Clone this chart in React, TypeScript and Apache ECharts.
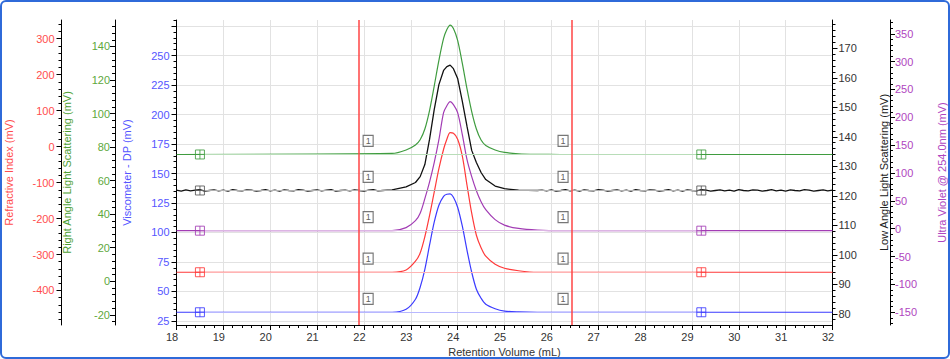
import React, { useEffect, useRef } from "react";
import * as echarts from "echarts";

// Retention volume (mL) sampling points
const retention = [18, 22.6, 22.9, 23.1, 23.2, 23.3, 23.4, 23.5, 23.6, 23.7, 23.77, 23.84, 23.91, 24.0, 24.1, 24.2, 24.3, 24.4, 24.5, 24.6, 24.8, 25.0, 25.3, 25.7, 26.2, 32];

// Detector signals (mV), each on its own axis
const rightAngleLS = [75.6, 76.2, 78.3, 81.3, 84.4, 90.8, 101.8, 116.4, 131.7, 144.8, 150.1, 152.8, 150.7, 143.6, 129.9, 114.7, 101.2, 90.8, 84.2, 81.0, 78.3, 76.8, 76.0, 75.7, 75.6, 75.6];
const lowAngleLS = [121.8, 122.0, 123.0, 124.5, 126.5, 130.6, 139.1, 149.2, 157.7, 162.5, 163.8, 164.3, 163.1, 159.8, 152.0, 143.5, 135.4, 131.3, 127.9, 125.5, 123.3, 122.4, 121.9, 121.8, 121.8, 121.8];
const ultraViolet = [-3.6, -3.6, 1.8, 14.4, 27.8, 53.9, 83.5, 118.5, 159.8, 208.3, 220.9, 228.1, 222.7, 208.3, 168.8, 123.9, 93.4, 68.2, 48.5, 34.1, 16.2, 6.3, 0.4, -2.5, -3.6, -3.6];
const refractiveIndex = [-349.3, -349.3, -343.2, -318.7, -295.9, -250.6, -192.2, -126.8, -61.5, -7.3, 20.6, 38.6, 37.2, 20.6, -26.7, -107.4, -185.2, -246.4, -281.2, -304.8, -327.1, -338.2, -345.1, -349.3, -349.3, -349.3];
const viscometerDP = [32.4, 32.4, 34.9, 43.4, 53.6, 68.8, 89.2, 108.7, 123.1, 130.7, 132.4, 132.7, 129.9, 121.4, 105.3, 84.9, 66.3, 51.9, 44.3, 39.2, 35.4, 33.4, 32.7, 32.4, 32.4, 32.4];

// Noisy low-angle baseline, every 0.1 mL before (18.0–22.5) and after (25.8–32.0) the peak
const lowAngleNoiseBefore = [121.9, 121.6, 122.0, 121.7, 121.9, 122.1, 121.6, 121.8, 122.0, 121.7,
  121.9, 121.6, 122.1, 121.8, 121.7, 122.0, 121.9, 121.6, 121.8, 122.1,
  121.7, 121.9, 121.6, 122.0, 121.8, 121.7, 122.1, 121.9, 121.6, 121.8,
  122.0, 121.7, 121.9, 122.1, 121.6, 121.8, 121.9, 121.7, 122.0, 121.8,
  121.6, 121.9, 122.1, 121.7, 121.8, 121.9];
const lowAngleNoiseAfter = [121.9, 121.7, 122.0, 121.6, 121.8, 122.1, 121.7, 121.9, 121.6, 122.0,
  121.8, 121.7, 122.1, 121.9, 121.6, 121.8, 122.0, 121.7, 121.9, 121.6,
  122.1, 121.8, 121.7, 122.0, 121.9, 121.6, 121.8, 122.1, 121.7, 121.9,
  121.6, 122.0, 121.8, 121.7, 122.1, 121.9, 121.6, 121.8, 122.0, 121.7,
  121.9, 121.6, 122.1, 121.8, 121.7, 122.0, 121.9, 121.6, 121.8, 122.1,
  121.7, 121.9, 121.6, 122.0, 121.8, 121.7, 122.1, 121.9, 121.6, 121.8,
  122.0, 121.7, 121.9];

// Baselines of each detector
const rightAngleBase = 75.6;
const lowAngleBase = 121.8;
const ultraVioletBase = -3.6;
const refractiveBase = -349.3;
const viscometerBase = 32.4;

// Baseline markers, peak limits, peak tags (mL)
const baselineMarkers = [18.5, 29.2];
const peakLimits = [21.9, 26.44];
const peakTags = [22.09, 26.25];
const peakTagText = "1";

// Axis ranges
const xRange = [18, 32];
const riRange = [-496, 352];
const ralsRange = [-26.1, 155.8];
const viscRange = [21.6, 280.1];
const lalsRange = [76.2, 179.6];
const uvRange = [-173, 374.8];

const FONT = "'Liberation Sans', Arial, Helvetica, sans-serif";

function steps(start: number, end: number, step: number) {
  const out: number[] = [];
  for (let v = start; v <= end + 1e-9; v += step) out.push(Math.round(v * 1000) / 1000);
  return out;
}

const RED = "#ff3a3a";
const GREEN = "#3f9c3f";
const BLUE = "#3b3bff";
const BLACK = "#111111";
const PURPLE = "#a23cb4";

function mainAxis(o: any) {
  return {
    type: "value",
    position: o.position,
    offset: o.offset,
    min: o.range[0],
    max: o.range[1],
    name: o.name,
    nameLocation: "middle",
    nameGap: o.nameGap,
    nameRotate: 90,
    nameTextStyle: { color: o.nameColor, fontSize: 11, fontFamily: FONT },
    axisLine: { show: true, onZero: false, lineStyle: { color: "#000", width: 1 } },
    axisTick: { show: true, length: 5, customValues: o.majors, lineStyle: { color: "#000", width: 1 } },
    axisLabel: { show: true, customValues: o.labels, color: o.labelColor, fontSize: 11, fontFamily: FONT, margin: o.margin, padding: [0, 0, o.lift, 0] },
    splitLine: { show: !!o.grid, lineStyle: { color: "#e2e2e2", width: 1 } },
    minorTick: { show: false },
    minorSplitLine: { show: false },
  };
}

function minorAxis(o: any) {
  return {
    type: "value",
    position: o.position,
    offset: o.offset,
    min: o.range[0],
    max: o.range[1],
    axisLine: { show: false, onZero: false },
    axisTick: { show: true, length: 3, customValues: o.minors, lineStyle: { color: "#000", width: 1 } },
    axisLabel: { show: false },
    splitLine: { show: false },
  };
}

const axisSpecs = [
  { key: "visc", position: "left", offset: 0, range: viscRange, name: "Viscometer - DP (mV)", nameColor: "#5555ff", labelColor: "#5555ff", nameGap: 44.5, margin: 7, grid: true, lift: 6,
    majors: steps(25, 275, 25), labels: steps(25, 250, 25), minors: steps(25, 280, 5) },
  { key: "rals", position: "left", offset: 61.5, range: ralsRange, name: "Right Angle Light Scattering (mV)", nameColor: "#4f9f35", labelColor: "#5ea83c", nameGap: 43, margin: 5, lift: 3,
    majors: steps(-20, 140, 20), labels: steps(-20, 140, 20), minors: steps(-24, 152, 4) },
  { key: "ri", position: "left", offset: 115, range: riRange, name: "Refractive Index (mV)", nameColor: "#ff4d4d", labelColor: "#ff4d4d", nameGap: 47, margin: 7, lift: 3,
    majors: steps(-400, 300, 100), labels: steps(-400, 300, 100), minors: steps(-480, 340, 20) },
  { key: "lals", position: "right", offset: 0, range: lalsRange, name: "Low Angle Light Scattering (mV)", nameColor: "#222222", labelColor: "#333333", nameGap: 46, margin: 6, lift: 3,
    majors: steps(80, 170, 10), labels: steps(80, 170, 10), minors: steps(78, 178, 2) },
  { key: "uv", position: "right", offset: 57.5, range: uvRange, name: "Ultra Violet @ 254.0nm (mV)", nameColor: "#b045c0", labelColor: "#b045c0", nameGap: 46.5, margin: 5, lift: 3,
    majors: steps(-150, 350, 50), labels: steps(-150, 350, 50), minors: steps(-170, 370, 10) },
];

function pairs(ys: number[]) {
  return retention.map((x, i) => [x, ys[i]]);
}

function lowAnglePairs() {
  const before = steps(18, 22.5, 0.1).map((x, i) => [x, lowAngleNoiseBefore[i]]);
  const peak = retention.slice(1, 24).map((x, i) => [x, lowAngleLS[i + 1]]);
  const after = steps(25.8, 32, 0.1).map((x, i) => [x, lowAngleNoiseAfter[i]]);
  return [...before, ...peak, ...after];
}

function traceSeries(name: string, yAxisIndex: number, data: number[][], base: number, color: string, light: string, width: number, smooth: number, extraMarks: any[] = []) {
  return {
    type: "line",
    name,
    yAxisIndex,
    data,
    showSymbol: false,
    symbol: "none",
    smooth,
    lineStyle: { color, width },
    z: 3,
    markLine: {
      silent: true,
      symbol: "none",
      label: { show: false },
      lineStyle: { color: light, width: 1, type: "solid" },
      data: [
        [{ coord: [baselineMarkers[0], base] }, { coord: [baselineMarkers[1], base] }],
        ...extraMarks,
      ],
    },
  };
}

function markerSeries(yAxisIndex: number, base: number, color: string) {
  return {
    type: "scatter",
    yAxisIndex,
    silent: true,
    data: baselineMarkers.map((x) => [x, base]),
    symbol: "path://M0 0H10V10H0Z M5 0V10 M0 5H10",
    symbolSize: 9,
    itemStyle: { color: "rgba(0,0,0,0)", borderColor: color, borderWidth: 1, opacity: 0.85 },
    z: 5,
  };
}

function tagSeries(yAxisIndex: number, base: number) {
  return {
    type: "scatter",
    yAxisIndex,
    silent: true,
    data: peakTags.map((x) => [x, base]),
    symbol: "rect",
    symbolSize: [10, 11],
    symbolOffset: [0, -13.5],
    itemStyle: { color: "#ffffff", borderColor: "#555555", borderWidth: 1.2 },
    label: { show: true, position: "inside", formatter: peakTagText, color: "#333", fontSize: 9, fontFamily: FONT },
    z: 6,
  };
}

export default function App() {
  const ref = useRef<HTMLDivElement>(null);
  useEffect(() => {
    if (!ref.current) return;
    const chart = echarts.init(ref.current, undefined, { renderer: "svg" });
    const yAxis: any[] = [...axisSpecs.map(mainAxis), ...axisSpecs.map(minorAxis)];
    const option: any = {
      animation: false,
      backgroundColor: "#ffffff",
      textStyle: { fontFamily: FONT },
      grid: { left: 176.5, right: 117.5, top: 20, bottom: 34, containLabel: false, outerBoundsMode: "none" },
      xAxis: {
        type: "value",
        min: xRange[0],
        max: xRange[1],
        interval: 1,
        name: "Retention Volume (mL)",
        nameLocation: "middle",
        nameGap: 17,
        nameTextStyle: { color: "#333", fontSize: 11, fontFamily: FONT },
        axisLine: { show: true, onZero: false, lineStyle: { color: "#000", width: 1 } },
        axisTick: { show: true, length: 5, lineStyle: { color: "#000" } },
        minorTick: { show: true, splitNumber: 5, length: 3, lineStyle: { color: "#000" } },
        axisLabel: { color: "#333", fontSize: 11, fontFamily: FONT, margin: 6, padding: [0, 9, 0, 0] },
        splitLine: { show: true, lineStyle: { color: "#e2e2e2", width: 1 } },
      },
      yAxis,
      series: [
        traceSeries("Right Angle Light Scattering", 1, pairs(rightAngleLS), rightAngleBase, GREEN, "#b8ddb8", 1.2, 0.3),
        traceSeries("Low Angle Light Scattering", 3, lowAnglePairs(), lowAngleBase, BLACK, "#b0b0b0", 1.3, 0),
        traceSeries("Ultra Violet @ 254.0nm", 4, pairs(ultraViolet), ultraVioletBase, PURPLE, "#dcb4e4", 1.2, 0.3),
        traceSeries("Refractive Index", 2, pairs(refractiveIndex), refractiveBase, RED, "#ffb4b4", 1.2, 0.3),
        traceSeries("Viscometer - DP", 0, pairs(viscometerDP), viscometerBase, BLUE, "#b8b8ff", 1.2, 0.3,
          peakLimits.map((x) => ({ xAxis: x, lineStyle: { color: "#ff4444", width: 1.5, type: "solid" } }))),
        markerSeries(1, rightAngleBase, GREEN),
        markerSeries(3, lowAngleBase, "#555555"),
        markerSeries(4, ultraVioletBase, PURPLE),
        markerSeries(2, refractiveBase, RED),
        markerSeries(0, viscometerBase, BLUE),
        tagSeries(1, rightAngleBase),
        tagSeries(3, lowAngleBase),
        tagSeries(4, ultraVioletBase),
        tagSeries(2, refractiveBase),
        tagSeries(0, viscometerBase),
      ],
    };
    chart.setOption(option);
    return () => chart.dispose();
  }, []);
  return (
    <div style={{ position: "absolute", left: 0, top: 0, width: 950, height: 359 }}>
      <div ref={ref} style={{ position: "absolute", left: 0, top: 0, width: 950, height: 359 }} />
      <div
        style={{
          position: "absolute",
          left: 0,
          top: 0,
          width: 950,
          height: 359,
          boxSizing: "border-box",
          border: "2px solid #2f6ad9",
          borderRadius: 6,
          pointerEvents: "none",
        }}
      />
    </div>
  );
}
